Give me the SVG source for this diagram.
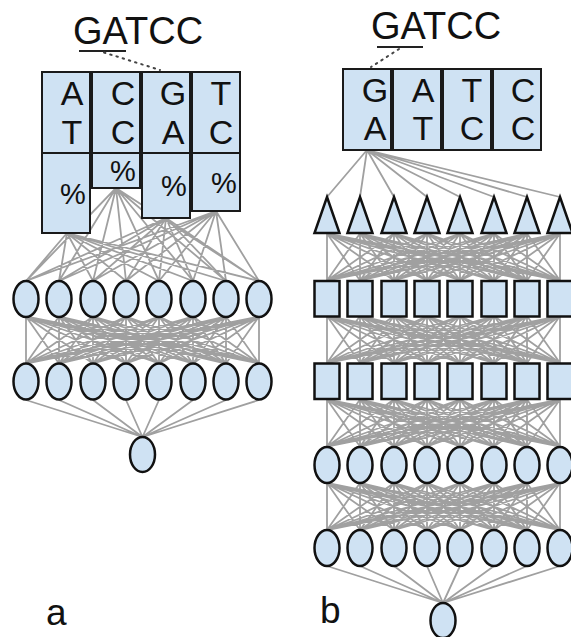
<svg xmlns="http://www.w3.org/2000/svg" xmlns:xlink="http://www.w3.org/1999/xlink" width="571" height="637" viewBox="0 0 571 637">
  <style>
    .box{fill:#cfe2f3;stroke:#1a1a1a;stroke-width:2}
    .unit{fill:#cfe2f3;stroke:#111;stroke-width:2.5}
    .wire{fill:none;stroke:#a0a0a0;stroke-width:1.8}
    .txt{font-family:"Liberation Sans",Arial,sans-serif;fill:#111}
    .seq{font-size:38px}
    .base{font-size:34px;text-anchor:middle}
    .pct{font-size:29px;text-anchor:middle}
    .lbl{font-size:37px}
    .mark{stroke:#222;stroke-width:1.8;fill:none}
    .dots{stroke:#444;stroke-width:2;fill:none;stroke-dasharray:1.5 5;stroke-linecap:round}
  </style>
  <defs>
    <!-- full 8x8 connection mesh between two layers, 47px tall -->
    <path id="mesh" class="wire" d="M0 0L0 47M0 0L33 47M0 0L67 47M0 0L100 47M0 0L133 47M0 0L167 47M0 0L200 47M0 0L233 47
      M33 0L0 47M33 0L33 47M33 0L67 47M33 0L100 47M33 0L133 47M33 0L167 47M33 0L200 47M33 0L233 47
      M67 0L0 47M67 0L33 47M67 0L67 47M67 0L100 47M67 0L133 47M67 0L167 47M67 0L200 47M67 0L233 47
      M100 0L0 47M100 0L33 47M100 0L67 47M100 0L100 47M100 0L133 47M100 0L167 47M100 0L200 47M100 0L233 47
      M133 0L0 47M133 0L33 47M133 0L67 47M133 0L100 47M133 0L133 47M133 0L167 47M133 0L200 47M133 0L233 47
      M167 0L0 47M167 0L33 47M167 0L67 47M167 0L100 47M167 0L133 47M167 0L167 47M167 0L200 47M167 0L233 47
      M200 0L0 47M200 0L33 47M200 0L67 47M200 0L100 47M200 0L133 47M200 0L167 47M200 0L200 47M200 0L233 47
      M233 0L0 47M233 0L33 47M233 0L67 47M233 0L100 47M233 0L133 47M233 0L167 47M233 0L200 47M233 0L233 47"/>
    <ellipse id="oval" class="unit" cx="0" cy="0" rx="12.5" ry="18"/>
    <rect id="cell" class="unit" x="-12.5" y="0" width="25" height="35.5"/>
    <polygon id="tri" class="unit" points="0,0 12.5,36 -12.5,36"/>
  </defs>

  <!-- connectors -->
  <g id="connectors">
    <!-- a: score boxes to first hidden layer -->
    <path class="wire" d="M67 233L26 281M67 233L59 281M67 233L93 281M67 233L126 281M67 233L159 281M67 233L193 281M67 233L226 281M67 233L259 281
      M116 188L26 281M116 188L59 281M116 188L93 281M116 188L126 281M116 188L159 281M116 188L193 281M116 188L226 281M116 188L259 281
      M166 218L26 281M166 218L59 281M166 218L93 281M166 218L126 281M166 218L159 281M166 218L193 281M166 218L226 281M166 218L259 281
      M216 211L26 281M216 211L59 281M216 211L93 281M216 211L126 281M216 211L159 281M216 211L193 281M216 211L226 281M216 211L259 281"/>
    <use xlink:href="#mesh" href="#mesh" transform="translate(26,316.5)"/>
    <path class="wire" d="M26 400L142.5 437M59 400L142.5 437M93 400L142.5 437M126 400L142.5 437M159 400L142.5 437M193 400L142.5 437M226 400L142.5 437M259 400L142.5 437"/>
    <!-- b: sequence window to triangle layer -->
    <path class="wire" d="M367 150L327 197M367 150L360 197M367 150L394 197M367 150L427 197M367 150L460 197M367 150L494 197M367 150L527 197M367 150L560 197"/>
    <use xlink:href="#mesh" href="#mesh" transform="translate(327,233.5)"/>
    <use xlink:href="#mesh" href="#mesh" transform="translate(327,316)"/>
    <use xlink:href="#mesh" href="#mesh" transform="translate(327,399.5)"/>
    <use xlink:href="#mesh" href="#mesh" transform="translate(327,483)"/>
    <path class="wire" d="M327 566L443 603M360 566L443 603M394 566L443 603M427 566L443 603M460 566L443 603M494 566L443 603M527 566L443 603M560 566L443 603"/>
  </g>

  <!-- sequence headers -->
  <g id="seq-a">
    <text class="txt seq" x="73" y="44">GATCC</text>
    <line class="mark" x1="79" y1="51" x2="126" y2="51"/>
    <line class="dots" x1="104" y1="52.5" x2="160" y2="70"/>
  </g>
  <g id="seq-b">
    <text class="txt seq" x="371" y="39">GATCC</text>
    <line class="mark" x1="377" y1="47" x2="423" y2="47"/>
    <line class="dots" x1="399" y1="49" x2="371" y2="67"/>
  </g>

  <!-- a: base-pair columns with score boxes -->
  <g id="a-col1">
    <rect class="box" x="42" y="72" width="48" height="81"/>
    <rect class="box" x="42" y="153" width="48" height="80"/>
    <text class="txt base" x="72" y="105">A</text>
    <text class="txt base" x="72" y="144">T</text>
    <text class="txt pct" x="73" y="204">%</text>
  </g>
  <g id="a-col2">
    <rect class="box" x="92" y="72" width="48" height="81"/>
    <rect class="box" x="92" y="153" width="48" height="35"/>
    <text class="txt base" x="123" y="105">C</text>
    <text class="txt base" x="123" y="144">C</text>
    <text class="txt pct" x="123" y="181">%</text>
  </g>
  <g id="a-col3">
    <rect class="box" x="142" y="72" width="48" height="81"/>
    <rect class="box" x="142" y="153" width="48" height="65"/>
    <text class="txt base" x="173" y="105">G</text>
    <text class="txt base" x="173" y="144">A</text>
    <text class="txt pct" x="174" y="196">%</text>
  </g>
  <g id="a-col4">
    <rect class="box" x="192" y="72" width="48" height="81"/>
    <rect class="box" x="192" y="153" width="48" height="58"/>
    <text class="txt base" x="221" y="105">T</text>
    <text class="txt base" x="221" y="144">C</text>
    <text class="txt pct" x="224" y="193">%</text>
  </g>

  <!-- a: hidden layer 1 -->
  <g id="a-h1-1"><use xlink:href="#oval" href="#oval" x="26" y="299"/></g>
  <g id="a-h1-2"><use xlink:href="#oval" href="#oval" x="59" y="299"/></g>
  <g id="a-h1-3"><use xlink:href="#oval" href="#oval" x="93" y="299"/></g>
  <g id="a-h1-4"><use xlink:href="#oval" href="#oval" x="126" y="299"/></g>
  <g id="a-h1-5"><use xlink:href="#oval" href="#oval" x="159" y="299"/></g>
  <g id="a-h1-6"><use xlink:href="#oval" href="#oval" x="193" y="299"/></g>
  <g id="a-h1-7"><use xlink:href="#oval" href="#oval" x="226" y="299"/></g>
  <g id="a-h1-8"><use xlink:href="#oval" href="#oval" x="259" y="299"/></g>
  <!-- a: hidden layer 2 -->
  <g id="a-h2-1"><use xlink:href="#oval" href="#oval" x="26" y="381.5"/></g>
  <g id="a-h2-2"><use xlink:href="#oval" href="#oval" x="59" y="381.5"/></g>
  <g id="a-h2-3"><use xlink:href="#oval" href="#oval" x="93" y="381.5"/></g>
  <g id="a-h2-4"><use xlink:href="#oval" href="#oval" x="126" y="381.5"/></g>
  <g id="a-h2-5"><use xlink:href="#oval" href="#oval" x="159" y="381.5"/></g>
  <g id="a-h2-6"><use xlink:href="#oval" href="#oval" x="193" y="381.5"/></g>
  <g id="a-h2-7"><use xlink:href="#oval" href="#oval" x="226" y="381.5"/></g>
  <g id="a-h2-8"><use xlink:href="#oval" href="#oval" x="259" y="381.5"/></g>
  <!-- a: output -->
  <g id="a-out"><ellipse class="unit" cx="142.5" cy="454.5" rx="12.5" ry="17.5"/></g>

  <!-- b: sequence window -->
  <g id="b-col1">
    <rect class="box" x="343" y="69" width="48" height="81"/>
    <text class="txt base" x="375" y="102">G</text>
    <text class="txt base" x="375" y="140">A</text>
  </g>
  <g id="b-col2">
    <rect class="box" x="393" y="69" width="48" height="81"/>
    <text class="txt base" x="423" y="102">A</text>
    <text class="txt base" x="423" y="140">T</text>
  </g>
  <g id="b-col3">
    <rect class="box" x="443" y="69" width="48" height="81"/>
    <text class="txt base" x="472" y="102">T</text>
    <text class="txt base" x="472" y="140">C</text>
  </g>
  <g id="b-col4">
    <rect class="box" x="493" y="69" width="48" height="81"/>
    <text class="txt base" x="523" y="102">C</text>
    <text class="txt base" x="523" y="140">C</text>
  </g>

  <!-- b: triangle layer -->
  <g id="b-t-1"><use xlink:href="#tri" href="#tri" x="327" y="197"/></g>
  <g id="b-t-2"><use xlink:href="#tri" href="#tri" x="360" y="197"/></g>
  <g id="b-t-3"><use xlink:href="#tri" href="#tri" x="394" y="197"/></g>
  <g id="b-t-4"><use xlink:href="#tri" href="#tri" x="427" y="197"/></g>
  <g id="b-t-5"><use xlink:href="#tri" href="#tri" x="460" y="197"/></g>
  <g id="b-t-6"><use xlink:href="#tri" href="#tri" x="494" y="197"/></g>
  <g id="b-t-7"><use xlink:href="#tri" href="#tri" x="527" y="197"/></g>
  <g id="b-t-8"><use xlink:href="#tri" href="#tri" x="560" y="197"/></g>
  <!-- b: first square layer -->
  <g id="b-s1-1"><use xlink:href="#cell" href="#cell" x="327" y="281"/></g>
  <g id="b-s1-2"><use xlink:href="#cell" href="#cell" x="360" y="281"/></g>
  <g id="b-s1-3"><use xlink:href="#cell" href="#cell" x="394" y="281"/></g>
  <g id="b-s1-4"><use xlink:href="#cell" href="#cell" x="427" y="281"/></g>
  <g id="b-s1-5"><use xlink:href="#cell" href="#cell" x="460" y="281"/></g>
  <g id="b-s1-6"><use xlink:href="#cell" href="#cell" x="494" y="281"/></g>
  <g id="b-s1-7"><use xlink:href="#cell" href="#cell" x="527" y="281"/></g>
  <g id="b-s1-8"><use xlink:href="#cell" href="#cell" x="560" y="281"/></g>
  <!-- b: second square layer -->
  <g id="b-s2-1"><use xlink:href="#cell" href="#cell" x="327" y="363.5"/></g>
  <g id="b-s2-2"><use xlink:href="#cell" href="#cell" x="360" y="363.5"/></g>
  <g id="b-s2-3"><use xlink:href="#cell" href="#cell" x="394" y="363.5"/></g>
  <g id="b-s2-4"><use xlink:href="#cell" href="#cell" x="427" y="363.5"/></g>
  <g id="b-s2-5"><use xlink:href="#cell" href="#cell" x="460" y="363.5"/></g>
  <g id="b-s2-6"><use xlink:href="#cell" href="#cell" x="494" y="363.5"/></g>
  <g id="b-s2-7"><use xlink:href="#cell" href="#cell" x="527" y="363.5"/></g>
  <g id="b-s2-8"><use xlink:href="#cell" href="#cell" x="560" y="363.5"/></g>
  <!-- b: hidden layer 1 -->
  <g id="b-h1-1"><use xlink:href="#oval" href="#oval" x="327" y="465"/></g>
  <g id="b-h1-2"><use xlink:href="#oval" href="#oval" x="360" y="465"/></g>
  <g id="b-h1-3"><use xlink:href="#oval" href="#oval" x="394" y="465"/></g>
  <g id="b-h1-4"><use xlink:href="#oval" href="#oval" x="427" y="465"/></g>
  <g id="b-h1-5"><use xlink:href="#oval" href="#oval" x="460" y="465"/></g>
  <g id="b-h1-6"><use xlink:href="#oval" href="#oval" x="494" y="465"/></g>
  <g id="b-h1-7"><use xlink:href="#oval" href="#oval" x="527" y="465"/></g>
  <g id="b-h1-8"><use xlink:href="#oval" href="#oval" x="560" y="465"/></g>
  <!-- b: hidden layer 2 -->
  <g id="b-h2-1"><use xlink:href="#oval" href="#oval" x="327" y="548"/></g>
  <g id="b-h2-2"><use xlink:href="#oval" href="#oval" x="360" y="548"/></g>
  <g id="b-h2-3"><use xlink:href="#oval" href="#oval" x="394" y="548"/></g>
  <g id="b-h2-4"><use xlink:href="#oval" href="#oval" x="427" y="548"/></g>
  <g id="b-h2-5"><use xlink:href="#oval" href="#oval" x="460" y="548"/></g>
  <g id="b-h2-6"><use xlink:href="#oval" href="#oval" x="494" y="548"/></g>
  <g id="b-h2-7"><use xlink:href="#oval" href="#oval" x="527" y="548"/></g>
  <g id="b-h2-8"><use xlink:href="#oval" href="#oval" x="560" y="548"/></g>
  <!-- b: output -->
  <g id="b-out"><ellipse class="unit" cx="443" cy="620.5" rx="12.5" ry="17.5"/></g>

  <!-- panel labels -->
  <text class="txt lbl" x="46" y="625">a</text>
  <text class="txt lbl" x="320" y="623">b</text>
</svg>
